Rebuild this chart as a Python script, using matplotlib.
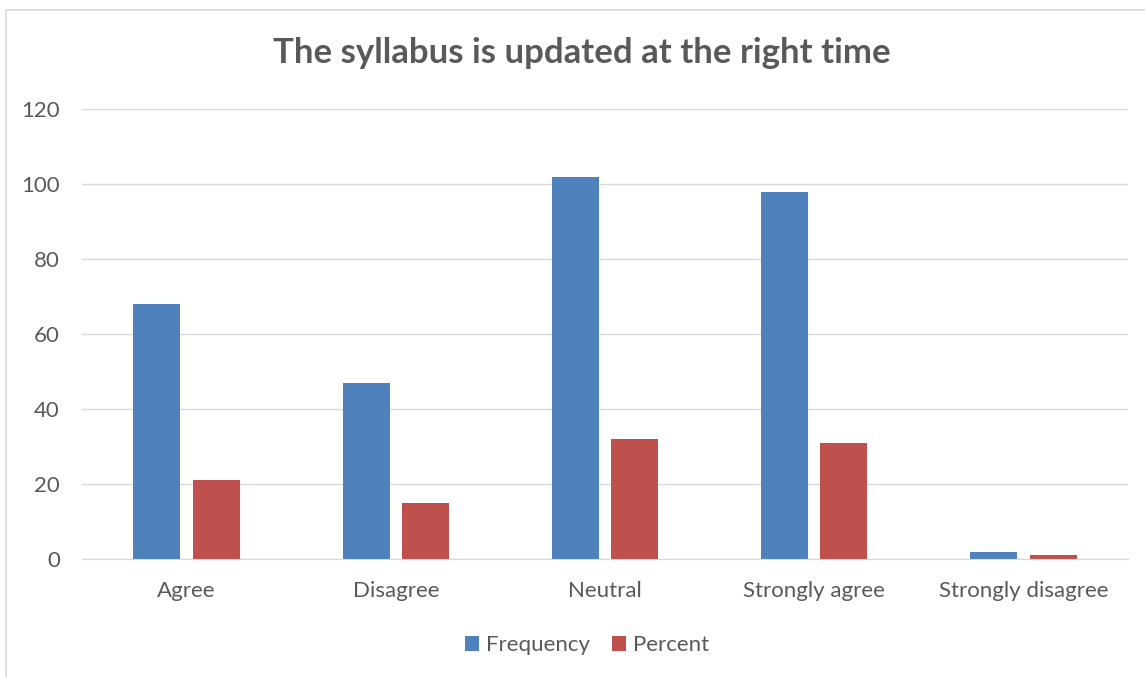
import matplotlib
matplotlib.use("Agg")
import matplotlib.pyplot as plt
from matplotlib.patches import Rectangle
import numpy as np

categories = ["Agree", "Disagree", "Neutral", "Strongly agree", "Strongly disagree"]
frequency = [68, 47, 102, 98, 2]
percent = [21, 15, 32, 31, 1]
yticks = [0, 20, 40, 60, 80, 100, 120]

plt.rcParams['font.family'] = ['Lato', 'DejaVu Sans']
W, H = 1145, 677
fig = plt.figure(figsize=(W/100, H/100), dpi=100)
fig.patches.append(Rectangle((6/W, -0.1), 1.2, 1.1 - 10/H, transform=fig.transFigure,
                             fill=False, edgecolor='#D9D9D9', linewidth=1.2))
ax = fig.add_axes([82/W, 1 - 559/H, (1128-82)/W, (559-109)/H])

x = np.arange(len(categories))
bw = 0.225
off = 0.142
ax.bar(x - off, frequency, bw, color='#4F81BD', label='Frequency', zorder=3)
ax.bar(x + off, percent, bw, color='#C0504D', label='Percent', zorder=3)

ax.set_xlim(-0.5, len(categories) - 0.5)
ax.set_ylim(0, 120)
ax.set_yticks(yticks)
ax.set_xticks(x)
ax.set_xticklabels(categories)
ax.tick_params(axis='both', length=0, labelsize=16, colors='#595959')
ax.tick_params(axis='x', pad=16)
ax.tick_params(axis='y', pad=16)
ax.grid(axis='y', color='#D9D9D9', linewidth=1, zorder=0)
for s in ['top', 'right', 'left']:
    ax.spines[s].set_visible(False)
ax.spines['bottom'].set_color('#D9D9D9')
ax.spines['bottom'].set_zorder(4)

fig.text(582/W, 1 - 53/H, "The syllabus is updated at the right time", ha='center', va='center',
         fontsize=25, fontweight='bold', color='#595959')

leg = fig.legend(loc='center', bbox_to_anchor=(587/W, 1 - 645/H), ncol=2, frameon=False,
                 fontsize=16, handlelength=0.65, handleheight=0.65, handletextpad=0.3,
                 columnspacing=1.0)
for t in leg.get_texts():
    t.set_color('#595959')

fig.savefig("out.png", dpi=100)
